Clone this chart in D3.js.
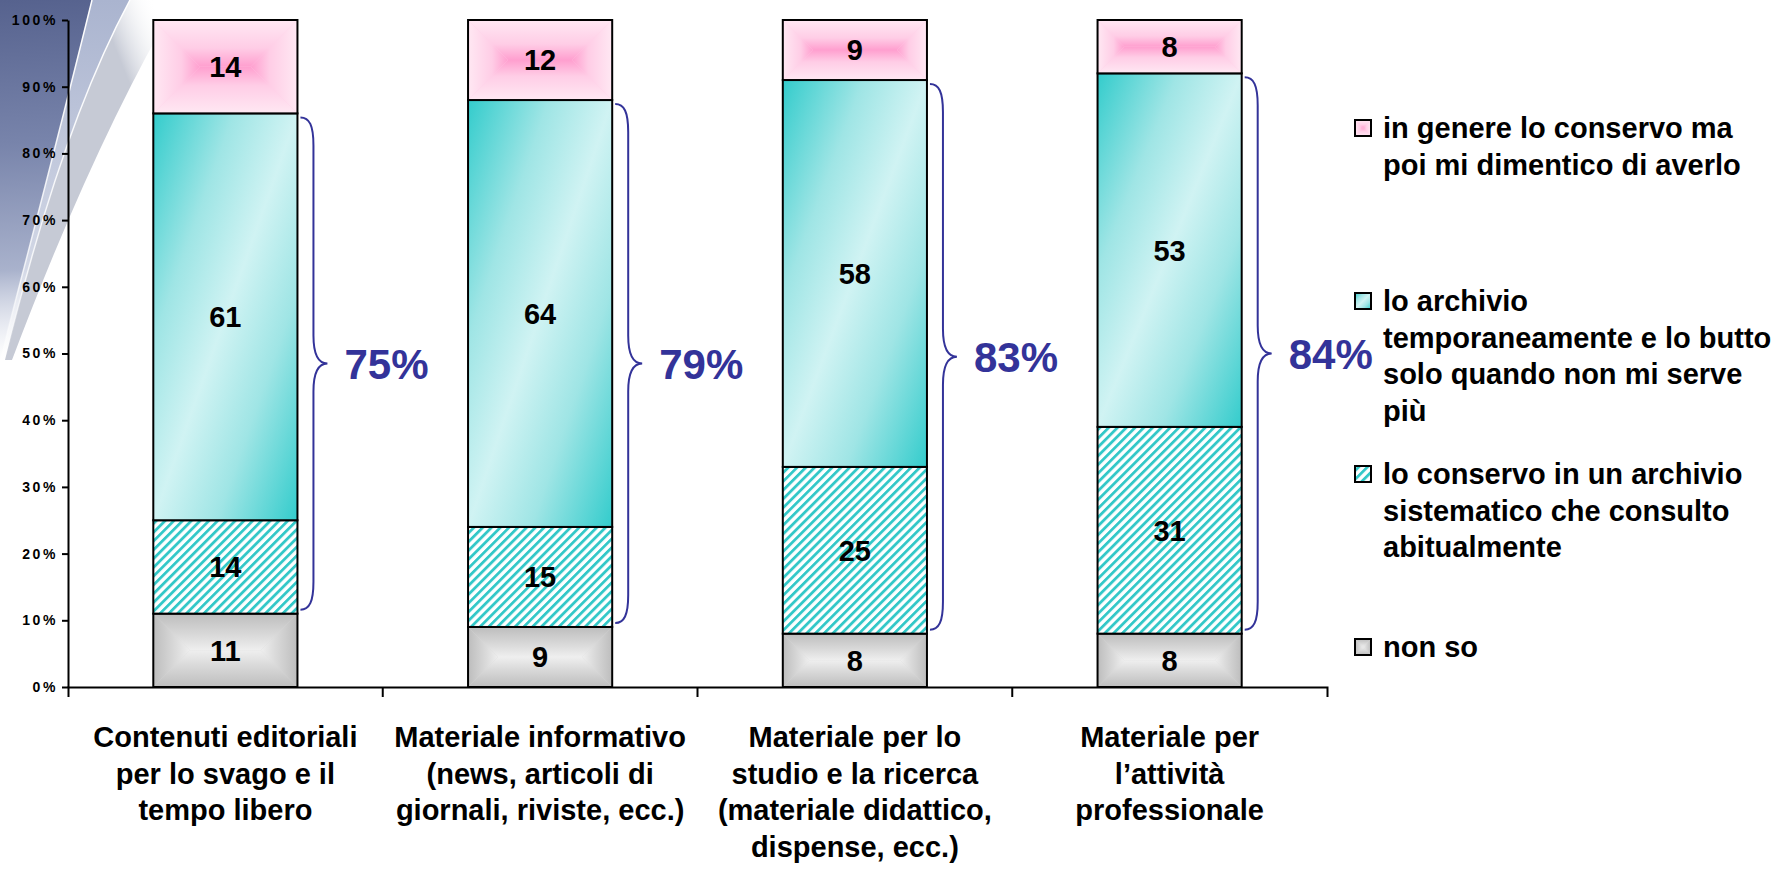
<!DOCTYPE html>
<html><head><meta charset="utf-8">
<script src="https://cdn.jsdelivr.net/npm/d3@7"></script>
<style>
body{margin:0;background:#fff}
svg{display:block}
text{font-family:"Liberation Sans",Arial,sans-serif;font-weight:bold}
</style>
</head><body>
<svg id="chart" width="1786" height="869"></svg>
<script>
// ---------- data ----------
const categories = [
  "Contenuti editoriali\nper lo svago e il\ntempo libero",
  "Materiale informativo\n(news, articoli di\ngiornali, riviste, ecc.)",
  "Materiale per lo\nstudio e la ricerca\n(materiale didattico,\ndispense, ecc.)",
  "Materiale per\nl’attività\nprofessionale"
];
const seriesKeys = ["nonSo", "sistematico", "temporaneo", "dimentico"]; // bottom -> top
const seriesLabels = [
  "non so",
  "lo conservo in un archivio\nsistematico che consulto\nabitualmente",
  "lo archivio\ntemporaneamente e lo butto\nsolo quando non mi serve\npiù",
  "in genere lo conservo ma\npoi mi dimentico di averlo"
];
const nonSo       = [11, 9, 8, 8];
const sistematico = [14, 15, 25, 31];
const temporaneo  = [61, 64, 58, 53];
const dimentico   = [14, 12, 9, 8];
const yTicks = [0, 10, 20, 30, 40, 50, 60, 70, 80, 90, 100];

// ---------- setup ----------
const svg = d3.select("#chart");
const defs = svg.append("defs");
svg.append("rect").attr("width",1786).attr("height",869).attr("fill","#fff");

const table = categories.map((c,i)=>({cat:c, nonSo:nonSo[i], sistematico:sistematico[i], temporaneo:temporaneo[i], dimentico:dimentico[i]}));
const stacked = d3.stack().keys(seriesKeys)(table);

const x = d3.scaleBand().domain(categories).range([68, 1327]).paddingInner(0).paddingOuter(0);
const y = d3.scaleLinear().domain([0,100]).range([687, 20]);
const barW = x.bandwidth()*0.458;

// ---------- gradients / patterns ----------
function lin(id, x1,y1,x2,y2, stops, units){
  const g = defs.append("linearGradient").attr("id",id)
    .attr("x1",x1).attr("y1",y1).attr("x2",x2).attr("y2",y2);
  if(units) g.attr("gradientUnits",units);
  stops.forEach(s=>g.append("stop").attr("offset",s[0]).attr("stop-color",s[1]).attr("stop-opacity", s[2]===undefined?1:s[2]));
}
const pathGrads = {
  pink: [[0,"#ffe8f3"],[0.6,"#ffcde6"],[1,"#ff9fcf"]],
  grey: [[0,"#bdbdbd"],[0.6,"#dadada"],[1,"#efefef"]]
};
Object.entries(pathGrads).forEach(([k,st])=>{
  lin(`pg-${k}-t`,0,0,0,1,st);
  lin(`pg-${k}-b`,0,1,0,0,st);
  lin(`pg-${k}-l`,0,0,1,0,st);
  lin(`pg-${k}-r`,1,0,0,0,st);
});
lin("teal",0,0,1,1,[[0,"#33cccc"],[0.28,"#9fe5e5"],[0.5,"#d0f3f3"],[0.72,"#9fe5e5"],[1,"#33cccc"]]);

const pat = defs.append("pattern").attr("id","hatch").attr("patternUnits","userSpaceOnUse")
  .attr("width",6.2).attr("height",6.2).attr("patternTransform","rotate(45)");
pat.append("rect").attr("width",6.2).attr("height",6.2).attr("fill","#fff");
pat.append("rect").attr("x",0).attr("width",2.8).attr("height",6.2).attr("fill","#33c8c8");

function pathRect(g, x0, y0, w, h, key, center){
  const m = Math.min(w,h)/2;
  const x1 = x0+w, y1 = y0+h;
  const cx0 = x0+m, cx1 = x1-m, cy0 = y0+m, cy1 = y1-m;
  g.append("rect").attr("x",x0).attr("y",y0).attr("width",w).attr("height",h).attr("fill",center);
  const polys = [
    [[x0,y0],[x1,y0],[cx1,cy0],[cx0,cy0],"t"],
    [[x0,y1],[x1,y1],[cx1,cy1],[cx0,cy1],"b"],
    [[x0,y0],[cx0,cy0],[cx0,cy1],[x0,y1],"l"],
    [[x1,y0],[cx1,cy0],[cx1,cy1],[x1,y1],"r"]
  ];
  polys.forEach(p=>{
    g.append("polygon").attr("points",p.slice(0,4).map(d=>d.join(",")).join(" "))
      .attr("fill",`url(#pg-${key}-${p[4]})`);
  });
}
function fillSeg(g, key, x0, y0, w, h){
  if(key==="dimentico") pathRect(g,x0,y0,w,h,"pink","#ffd0e8");
  else if(key==="nonSo") pathRect(g,x0,y0,w,h,"grey","#d8d8d8");
  else g.append("rect").attr("x",x0).attr("y",y0).attr("width",w).attr("height",h)
        .attr("fill", key==="temporaneo" ? "url(#teal)" : "url(#hatch)");
  g.append("rect").attr("x",x0).attr("y",y0).attr("width",w).attr("height",h)
    .attr("fill","none").attr("stroke","#000").attr("stroke-width",2);
}

// ---------- background decoration ----------
lin("decoDark",0,0,20,360,[[0,"#56628e"],[0.4,"#7884ab"],[0.75,"#a9b2cc"],[1,"#d6dbe8",0]],"userSpaceOnUse");
lin("decoBand",0,0,0,360,[[0,"#aab4cf"],[0.75,"#d3d8e6"],[1,"#eef0f5",0]],"userSpaceOnUse");
lin("decoShadow",120,60,170,40,[[0,"#c6cad5"],[1,"#ffffff",0]],"userSpaceOnUse");
lin("decoLine",0,0,0,360,[[0,"#ffffff"],[0.8,"#ffffff",0.7],[1,"#ffffff",0]],"userSpaceOnUse");
const deco = svg.append("g");
deco.append("path").attr("d","M130,0 L178,0 Q95,140 12,360 L5,360 Q60,130 130,0Z").attr("fill","url(#decoShadow)");
deco.append("path").attr("d","M92,0 L130,0 Q60,130 5,360 L0,360 Q55,150 92,0Z").attr("fill","url(#decoBand)");
deco.append("path").attr("d","M0,0 L92,0 Q55,150 0,360 Z").attr("fill","url(#decoDark)");
deco.append("path").attr("d","M92,0 Q55,150 0,360").attr("fill","none").attr("stroke","url(#decoLine)").attr("stroke-width",1.5);
deco.append("path").attr("d","M130,0 Q60,130 5,360").attr("fill","none").attr("stroke","url(#decoLine)").attr("stroke-width",1.5);

// ---------- bars ----------
const barsG = svg.append("g");
stacked.forEach(layer=>{
  layer.forEach((d,i)=>{
    const cx = x(categories[i]) + x.bandwidth()/2;
    const x0 = cx - barW/2, yt = y(d[1]), yb = y(d[0]);
    const g = barsG.append("g");
    fillSeg(g, layer.key, x0, yt, barW, yb-yt);
    barsG.append("text").attr("x",cx).attr("y",(yt+yb)/2).attr("dy","0.36em")
      .attr("text-anchor","middle").attr("font-size",29).attr("fill","#000")
      .text(d[1]-d[0]);
  });
});

// ---------- axes ----------
const yAxis = d3.axisLeft(y).tickValues(yTicks).tickSize(6).tickSizeOuter(0).tickPadding(4).tickFormat(d=>d+"%");
const yg = svg.append("g").attr("transform","translate(68,0)").call(yAxis);
yg.selectAll("path,line").attr("stroke","#000").attr("stroke-width",2);
yg.selectAll("text").attr("font-size",14).attr("font-family","'Liberation Sans',Arial,sans-serif")
  .attr("font-weight","bold").attr("letter-spacing",2.6).attr("fill","#000");

const xAxis = d3.axisBottom(x).tickSize(0).tickSizeOuter(10).tickFormat("");
const xg = svg.append("g").attr("transform","translate(0,687)").call(xAxis);
xg.select(".domain").attr("stroke","#000").attr("stroke-width",2);
categories.slice(0,-1).forEach(c=>{
  const bx = x(c)+x.bandwidth();
  xg.append("line").attr("x1",bx).attr("x2",bx).attr("y1",0).attr("y2",10).attr("stroke","#000").attr("stroke-width",2);
});
xg.selectAll(".tick").each(function(c){
  const t = d3.select(this).select("text").text("").attr("y",0).attr("dy",null)
    .attr("font-size",29).attr("font-family","'Liberation Sans',Arial,sans-serif")
    .attr("font-weight","bold").attr("fill","#000");
  c.split("\n").forEach((line,k)=>{
    t.append("tspan").attr("x",0).attr("y",60 + k*36.5).text(line);
  });
});

// ---------- braces ----------
const braceG = svg.append("g");
categories.forEach((c,i)=>{
  const xr = x(c) + x.bandwidth()/2 + barW/2;
  const yTop = y(nonSo[i]+sistematico[i]+temporaneo[i]) + 4;
  const yBot = y(nonSo[i]) - 4;
  const tip = (yTop+yBot)/2;
  const a = xr+3, v = xr+16, t = xr+30;
  const d = `M${a},${yTop} C${a+9},${yTop} ${v},${yTop+8} ${v},${yTop+28} L${v},${tip-28} C${v},${tip-8} ${v+6},${tip} ${t},${tip} `+
            `C${v+6},${tip} ${v},${tip+8} ${v},${tip+28} L${v},${yBot-28} C${v},${yBot-8} ${a+9},${yBot} ${a},${yBot}`;
  braceG.append("path").attr("d",d).attr("fill","none").attr("stroke","#333399").attr("stroke-width",2);
  braceG.append("text").attr("x",xr+47).attr("y",tip).attr("dy","0.36em")
    .attr("font-size",42).attr("fill","#333399").text((sistematico[i]+temporaneo[i])+"%");
});

// ---------- legend ----------
const legendOrder = [3,2,1,0];
const lg = svg.append("g");
legendOrder.forEach((si,k)=>{
  const cy = 128 + k*173;
  const g = lg.append("g");
  fillSeg(g, seriesKeys[si], 1355, cy-8, 16, 16);
  const t = lg.append("text").attr("font-size",29).attr("fill","#000");
  seriesLabels[si].split("\n").forEach((line,j)=>{
    t.append("tspan").attr("x",1383).attr("y",cy + j*36.5).attr("dy","0.36em").text(line);
  });
});
</script>
</body></html>
